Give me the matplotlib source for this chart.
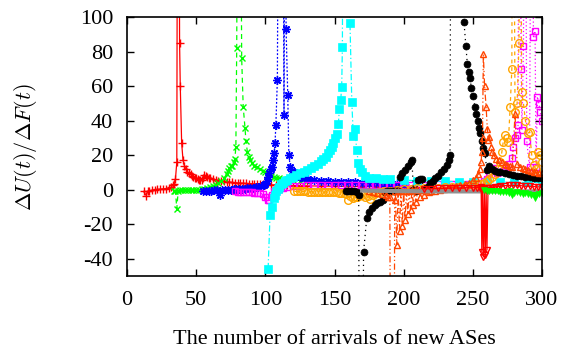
import matplotlib
matplotlib.use("Agg")
import matplotlib.pyplot as plt

# ---------------- data ----------------
red_plus_x = [12, 14, 15, 16, 18, 20, 22, 24, 26, 28, 30, 32, 33, 34, 35, 36, 37, 38, 38.5, 39.5, 40.5,
              41.5, 42.5, 43.5, 44.5, 46, 47, 48, 49, 50, 51, 52, 53, 54, 55, 56, 57, 58, 59, 60, 62, 64,
              66, 68, 70, 72, 74, 76, 78, 80, 82, 84, 86, 88, 90, 92, 94, 96, 98, 100, 104, 108, 112, 116,
              120, 125, 130, 140, 150, 160, 170, 180, 190, 200, 210]
red_plus_y = [-1, -3.5, -0.8, -0.5, -0.3, 0, 0.2, 0.3, 0.5, 0.6, 0.8, 1.5, 2.5, 3.5, 6, 16, 400, 85, 60, 27, 17,
              14, 12, 10.5, 9.6, 8.8, 8, 7.5, 7, 6.5, 6.2, 5.8, 5.6, 5.5, 6.5, 8.5, 8, 7.5, 7, 6.5, 6, 5.6,
              5.2, 5, 4.8, 4.6, 4.4, 4.2, 4, 3.9, 3.8, 3.7, 3.6, 3.5, 3.4, 3.3, 3.2, 3.1, 3.0, 2.9, 2.8, 2.7, 2.6, 2.5,
              2.4, 2.3, 2.2, 2.1, 2.0, 1.9, 1.8, 1.7, 1.6, 1.5, 1.4]

green_x_x = [34, 35, 36, 37, 38, 40, 42, 44, 46, 48, 50, 52, 54, 56, 58, 60, 62, 64, 66, 68, 70, 72, 73, 74,
             75, 76, 77, 78, 78.7, 79.3, 80.5, 81.5, 82.9, 84, 85.3, 86, 87, 88, 89, 90, 92, 94, 96, 98, 100,
             102, 104, 106, 108, 110, 113, 116, 120, 125, 130, 140, 150, 160, 170]
green_x_y = [-0.5, -1, -11, -0.5, -0.3, 0, 0, 0, 0, 0, 0, 0, 0.2, 0.5, 1, 1.5, 2, 2.8, 3.8, 5, 6.5, 9, 11, 12.5,
             13.5, 14, 16, 18, 25, 82, 300, 300, 76, 48, 35.7, 28, 22, 19, 17, 15.5, 14, 13, 12, 11, 10,
             9, 8, 7.5, 7, 6.5, 6, 5.8, 5.5, 5, 4.8, 4.5, 4.3, 4, 3.8]

blue_star_x = [55, 57, 59, 61, 63, 65, 67, 69, 71, 73, 75, 77, 79, 81, 83, 85, 87, 89, 91, 93, 95, 97, 99, 100,
               101, 102, 103, 104, 104.6, 105.6, 106.3, 107, 107.6, 108.7, 110, 112.5, 113.5, 114.2, 115, 116.2,
               117, 118, 119, 120.5, 122.7, 125, 128, 131, 135, 140, 145, 150, 155, 160, 165, 170, 175, 180,
               185, 190, 195, 200]
blue_star_y = [-1, -0.8, -0.6, -0.5, -0.4, -0.3, -3, -0.2, 0, 0, 0.1, 0.2, 0.3, 0.4, 0.5, 0.6, 0.8, 1, 1.2, 1.5,
               1.8, 2.2, 2.8, 3.5, 5, 7.5, 9.6, 12, 13.3, 17, 21, 27, 37.5, 63.5, 300, 300, 43, 300, 93, 55,
               20, 13.3, 11, 10.4, 9, 7.5, 6.5, 6, 5.5, 5, 4.8, 4.6, 4.5, 4.3, 4.2, 4, 3.8, 3.6,
               3.4, 3.2, 3, 2.8]

magenta_sq_x = [78, 80, 82, 84, 86, 88, 90, 92, 94, 96, 98, 99.8, 101, 102, 103, 104.6, 106, 108, 110, 113, 116,
                120, 125, 130, 135, 140, 145, 150, 155, 160, 165, 170, 175, 180, 185, 190, 195, 200, 205, 210,
                215, 220, 225, 230, 235, 240, 245, 250, 253, 256, 258, 260, 262, 264.7, 267.5, 270, 272, 274,
                276, 278.2, 279, 280.6, 282, 282.7, 283.5, 284.9, 285.5, 286.6, 287.5, 289, 291, 292.5, 293.8,
                295, 295.7, 296.7, 297.9, 298.6, 300]
magenta_sq_y = [-1, -1.2, -1.3, -1.5, -1.5, -1.6, -1.6, -1.7, -1.8, -2, -2.5, -4, -4, -6, -6, -3, -1, 0, 0.5, 1,
                1.5, 2, 2.3, 2.5, 2.6, 2.7, 2.8, 2.8, 2.8, 2.8, 2.8, 2.8, 2.8, 2.8, 2.8, 2.8, 2.8, 2.8, 2.8, 2.9,
                2.9, 2.9, 3, 3, 3, 3, 3, 3, 3.5, 4, 5, 6, 10.4, 12.4, 9.5, 10, 11, 13,
                15, 18.2, 25, 29.8, 31.5, 37.5, 300, 70, 34.6, 83, 300, 28, 13, 300, 88.6,
                91.9, 13.3, 53.9, 49.4, 45, 40]

cyan_sq_x = [102, 103.4, 104.6, 106, 107, 108, 109, 110, 111.5, 113, 114.5, 116, 118, 120, 122, 125, 128, 130,
             133, 135, 138, 140, 142, 144, 145.5, 147, 148, 149, 150.5, 152, 152.8, 153.5, 154.5, 155.2, 155.7,
             156.5, 158, 160, 161.2, 162.5, 163.6, 164.9, 166, 167.3, 168.5, 169.7, 172, 175, 180, 185, 190,
             200, 210, 220, 230, 240, 250, 260, 270, 280, 290, 300]
cyan_sq_y = [-46, -14.6, -9.8, -5, -3, -1, 0.5, 1.7, 3, 4, 5, 5.5, 6.5, 7.5, 8.5, 9.5, 10.5, 11.4,
             12.5, 13.5, 15, 16.5, 17.8, 19, 21, 23, 25, 27, 30, 32, 38, 46.5, 52, 59.6, 82.4,
             300, 400, 300, 96.3, 51, 31, 35, 23, 15.3, 12, 10.4, 8, 7, 6.5, 6.3, 6,
             5.5, 5.2, 5, 4.8, 4.6, 4.5, 4.5, 4.4, 4.3, 4.2, 4.2]

orange_circ_x = [121, 123, 125, 127, 129, 131, 133, 135, 137, 139, 141, 143, 145, 147, 149, 151, 153, 155, 157,
                 158.5, 160, 161.5, 163.6, 165, 166, 168, 170, 172, 174, 175.7, 178, 180, 183, 186, 190, 195,
                 200, 205, 210, 215, 220, 225, 230, 235, 240, 245, 250, 253, 256, 258, 260, 262, 264, 266, 268,
                 270, 271, 272, 273, 274.5, 275.7, 277, 278.2, 279, 280.5, 282, 283.4, 284.2, 285.3, 286.6, 288,
                 289.9, 291, 292.6, 294, 295.5, 297.4, 298.6, 300]
orange_circ_y = [-1, -1, -1, -1, -1, -1.1, -1.1, -1.2, -1.2, -1.2, -1.3, -1.3, -1.4, -1.5, -1.5, -1.6, -1.7, -1.8,
                 -2, -2.5, -6, -3.5, -5, -4.5, -4, -3.5, -3, -4, -3.5, -5.4, -3, -2, -1.5, -1, -0.5, 0,
                 0.3, 0.5, 0.7, 0.9, 1, 1.2, 1.4, 1.6, 1.8, 2, 2.5, 3, 3.5, 4, 5, 6, 7.5, 9, 12,
                 16, 22, 27.8, 31.7, 29.8, 27.8, 48, 70, 300, 45, 50, 84.8, 300, 56.8, 50, 40,
                 32.6, 33.6, 20, 14.3, 12, 22, 20, 16]

black_circ_x = [158, 160, 162, 164, 166, 167.5, 168.5, 169.5, 171, 173.3, 175, 177, 179, 181, 183, 185.4, 186.5,
                188, 190, 192, 194, 196, 197.4, 199, 201, 203, 205, 206, 207, 209, 210.6, 212, 213, 214.5, 216,
                218, 219, 221, 223, 225, 227, 229, 231, 232.5, 233.5, 234.5, 236, 238, 240, 242, 243.6, 245,
                246, 247, 247.8, 249, 250, 251.6, 252.5, 253.5, 254.5, 255.5, 256.5, 257.5, 258.9, 260, 262,
                264, 266, 268, 270, 273, 276, 279, 282, 285, 288, 291, 294, 297, 300]
black_circ_y = [-0.5, -0.8, -1, -1, -1.2, -3, -300, -300, -36, -16.6, -13, -10.5, -9, -8, -7, -6, -1.5,
                -1, -1, -1, -0.8, -0.5, 7.5, 9.5, 11.5, 13.5, 16, 17.2, 0, -0.5, 5.6, 6, 6.2, 0.5, 1,
                2, 3.7, 5, 6.5, 8, 10, 12, 14.5, 17, 20, 300, 300, 300, 300, 300, 97, 83,
                73, 68, 64.5, 59, 54, 48, 44, 40, 36, 33, 28, 24, 21, 11.4, 14,
                12, 11, 10.5, 10, 9.5, 9, 8.5, 8, 7.7, 7.5, 7.2, 7, 6.8, 6.7]

orangered_tri_x = [175, 178, 181, 184, 187, 189, 190, 191.2, 192.6, 193.5, 194, 195, 196, 197, 198, 199, 200,
                   201, 202, 203, 204, 205, 206, 207, 208, 209, 210, 212, 213, 215, 216, 218, 220, 223, 226,
                   229, 232, 235, 238, 241, 244, 247, 250, 252, 254, 255, 256, 256.5, 257, 257.6, 258.5,
                   259.6, 260.5, 261.2, 262, 263, 264, 265, 267, 269, 271, 273, 275, 277, 278.5, 280.5, 282,
                   284, 286, 288, 290, 292, 294, 296, 298, 300]
orangered_tri_y = [-1, -1.5, -2, -2.5, -3, -4, -4, -300, -300, -6, -1, -32, -0.5, -24, -1, -21, -0.5,
                   -17.5, -1, -14, -0.5, -11.7, 0, -9, 0, -7, 0, -4, 0, -3, 0, -1.5, -1, -0.5, 0,
                   0.5, 1, 1.5, 2, 2.5, 3, 4, 5.5, 7, 9, 12, 16, 22, 30, 78.4, 60,
                   48, 35, 28.8, 30.7, 25, 22, 20, 18, 17, 16, 15, 14.5, 14, 13, 44, 15,
                   13, 12.5, 12, 11.5, 11, 10.5, 10, 9.8, 9.6]

gray_x = [170, 175, 180, 185, 190, 195, 200, 205, 210, 215, 220, 225, 230, 235, 240, 245, 250, 255, 260, 265,
          270, 275, 280, 285, 290, 295, 300]
gray_y = [-0.5, -0.6, -0.6, -0.7, -0.7, -0.8, -0.8, -0.8, -0.9, -0.9, -1, -1, -1, -1, -1, -1, -1, -1, -1, -1,
          -1, -1, -1, -1, -1, -1, -1]

red_v_x = [215, 220, 225, 230, 235, 240, 245, 250, 253, 255, 256, 256.5, 257, 257.7, 258.3, 259, 259.6, 260.2,
           261, 262, 264, 266, 268, 270, 273, 276, 279, 282, 285, 288, 291, 294, 297, 300]
red_v_y = [0.5, 0.6, 0.7, 0.8, 0.9, 1, 1, 1.1, 1.2, 1.2, 1.3, -36, 1, -39, 0.5, -38, 0, -35,
           0.8, 1, 1.2, 1.5, 1.8, 2, 2.3, 2.5, 2.5, 2.5, 2.3, 2, 2, 1.8, 1.6, 1.5]

green_v_x = [258, 260, 262, 264, 266, 268, 270, 272, 274, 276, 277, 278, 280, 282, 284, 286, 288, 290, 292, 294,
             295, 296, 298, 300]
green_v_y = [0, -0.5, -0.5, -1, -1, -1, -1.5, -1.5, -1.5, -2, -1, -3, -2, -1.5, -2, -2.5, -2, -2.5, -3, -3,
             -5, -3, -2.5, -2]

x_ticks = [0, 50, 100, 150, 200, 250, 300]
y_ticks = [-40, -20, 0, 20, 40, 60, 80, 100]

# ---------------- drawing ----------------
plt.rcParams['font.family'] = ['Liberation Serif', 'DejaVu Serif']
plt.rcParams['mathtext.fontset'] = 'cm'

fig = plt.figure(figsize=(5.62, 3.5), dpi=100)
ax = fig.add_axes([0.226, 0.2114, 0.7384, 0.74])

ms = 5
series = [
    (red_plus_x, red_plus_y, dict(color='#ff0000', ls='-', marker='+', ms=6, mew=1.0)),
    (green_x_x, green_x_y, dict(color='#00ff00', ls=(0, (4, 3)), marker='x', ms=5, mew=1.0)),
    (blue_star_x, blue_star_y, dict(color='#0000ff', ls=(0, (1.5, 1.5)), marker=(8, 2, 0), ms=6, mew=1.0)),
    (magenta_sq_x, magenta_sq_y, dict(color='#ff00ff', ls=(0, (1, 2)), marker='s', ms=ms, mfc='none', mew=1.0)),
    (cyan_sq_x, cyan_sq_y, dict(color='#00ffff', ls=(0, (5, 2, 1, 2)), marker='s', ms=ms + 0.5, mew=0.5)),
    (orange_circ_x, orange_circ_y, dict(color='#ffa500', ls=(0, (3, 3)), marker='o', ms=ms + 0.5, mfc='none', mew=1.0)),
    (black_circ_x, black_circ_y, dict(color='#000000', ls=(0, (1, 3)), marker='o', ms=ms, mew=0.5)),
    (orangered_tri_x, orangered_tri_y, dict(color='#ff4500', ls=(0, (5, 2, 1, 2, 1, 2)), marker='^', ms=ms, mfc='none', mew=1.0)),
    (gray_x, gray_y, dict(color='#909090', ls='-', lw=3, marker=None)),
    (red_v_x, red_v_y, dict(color='#ff0000', ls='-', marker='v', ms=ms, mfc='none', mew=1.0)),
    (green_v_x, green_v_y, dict(color='#00ff00', ls='-', marker='v', ms=4, mew=0.5)),
]
for xs, ys, kw in series:
    kw.setdefault('lw', 0.9)
    ax.plot(xs, ys, **kw)

ax.set_xlim(0, 300)
ax.set_ylim(-50, 100)
ax.set_xticks(x_ticks)
ax.set_yticks(y_ticks)
ax.set_xticklabels([str(t) for t in x_ticks])
ax.set_yticklabels([str(t) for t in y_ticks])
ax.tick_params(direction='in', length=5, width=1, top=True, right=True, labelsize=16)
ax.tick_params(axis='x', pad=11)
ax.tick_params(axis='y', pad=10)
for s in ax.spines.values():
    s.set_linewidth(1.2)

ax.set_xlabel('The number of arrivals of new ASes', fontsize=16, labelpad=14)
ax.set_ylabel(r'$\Delta U(t)/\Delta F(t)$', fontsize=16, labelpad=29)

fig.savefig('out.png', dpi=100)
